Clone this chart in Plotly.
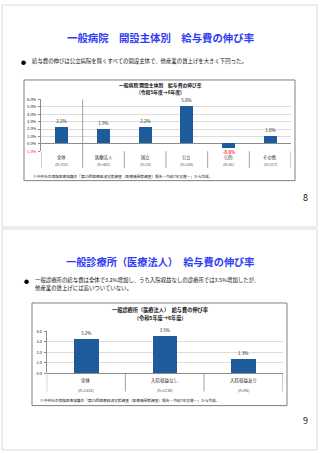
import plotly.graph_objects as go

W, H = 320, 453

# ---------------- data ----------------
cats1 = ["全体", "医療法人", "国立", "公立", "公的", "その他"]
n1 = ["(n=732)", "(n=402)", "(n=24)", "(n=130)", "(n=51)", "(n=117)"]
vals1 = [2.2, 1.9, 2.2, 5.0, -0.6, 1.0]
ytick1 = [-1, 0, 1, 2, 3, 4, 5, 6]

cats2 = ["全体", "入院収益なし", "入院収益あり"]
n2 = ["(n=1333)", "(n=1238)", "(n=95)"]
vals2 = [3.2, 3.5, 1.3]
ytick2 = [0, 1, 2, 3, 4]

FONT = "Noto Sans CJK JP"
BLUE_BAR = "#1d5b9b"
TITLE_BLUE = "#2f3cf5"
TXT = "#222222"
RED = "#ff2020"


def X(px):
    return px / W


def Y(py):
    return 1 - py / H


fig = go.Figure()

fig.add_trace(go.Bar(
    x=cats1, y=vals1, xaxis="x", yaxis="y", width=0.31,
    marker=dict(color=BLUE_BAR, line=dict(width=0)),
    text=[f"{v:.1f}%" if v >= 0 else "" for v in vals1], textposition="outside", cliponaxis=False,
    textfont=dict(size=4.5, family=FONT, color=TXT),
    hoverinfo="skip", showlegend=False,
))
fig.add_trace(go.Bar(
    x=cats2, y=vals2, xaxis="x2", yaxis="y2", width=0.31,
    marker=dict(color=BLUE_BAR, line=dict(width=0)),
    text=[f"{v:.1f}%" for v in vals2], textposition="outside", cliponaxis=False,
    textfont=dict(size=4.5, family=FONT, color=TXT),
    hoverinfo="skip", showlegend=False,
))

tt1 = [(f"<span style='color:{RED}'>{v:.1f}%</span>" if v < 0 else f"{v:.1f}%") for v in ytick1]
tt2 = [f"{v:.1f}" for v in ytick2]

common_x = dict(type="category", showticklabels=False, showgrid=False, zeroline=False,
                showline=False, ticks="", fixedrange=True)
common_y = dict(showgrid=True, gridcolor="#dcdcdc", gridwidth=0.6, showline=True,
                linecolor="#8c8c8c", linewidth=0.8, ticks="outside", ticklen=2,
                tickcolor="#8c8c8c", tickwidth=0.6, zeroline=True, zerolinecolor="#8c8c8c",
                zerolinewidth=0.9, tickfont=dict(size=4, family=FONT, color=TXT),
                ticklabelstandoff=1, fixedrange=True)

fig.update_layout(
    width=W, height=H, margin=dict(l=0, r=0, t=0, b=0),
    paper_bgcolor="white", plot_bgcolor="rgba(0,0,0,0)",
    font=dict(family=FONT, color=TXT),
    bargap=0,
    xaxis=dict(domain=[X(41), X(291)], range=[-0.5, len(cats1) - 0.5], anchor="y", **common_x),
    yaxis=dict(domain=[Y(149.2), Y(96.7)], range=[-1, 6], tickvals=ytick1, ticktext=tt1,
               anchor="x", **common_y),
    xaxis2=dict(domain=[X(46.7), X(282.7)], range=[-0.5, len(cats2) - 0.5], anchor="y2", **common_x),
    yaxis2=dict(domain=[Y(374.3), Y(331.7)], range=[0, 4], tickvals=ytick2, ticktext=tt2,
                anchor="x2", **common_y),
)

shapes = []
# slide outlines
shapes.append(dict(type="rect", xref="paper", yref="paper", x0=X(2), x1=X(317), y0=Y(226), y1=Y(1),
                   line=dict(color="#dadada", width=1), layer="below"))
shapes.append(dict(type="rect", xref="paper", yref="paper", x0=X(2), x1=X(317), y0=Y(452), y1=Y(228),
                   line=dict(color="#dadada", width=1), layer="below"))
# chart frames
shapes.append(dict(type="rect", xref="paper", yref="paper", x0=X(24), x1=X(295), y0=Y(179), y1=Y(77),
                   line=dict(color="#808080", width=1)))
shapes.append(dict(type="rect", xref="paper", yref="paper", x0=X(32), x1=X(287), y0=Y(407), y1=Y(303),
                   line=dict(color="#808080", width=1)))
# category separators chart 1
for i in range(len(cats1) + 1):
    xb = i - 0.5
    top = Y(96.7) if i == 1 else Y(149.2)
    shapes.append(dict(type="line", xref="x", yref="paper", x0=xb, x1=xb, y0=Y(166), y1=top,
                       line=dict(color="#8c8c8c", width=0.8)))
# category separators chart 2
for i in range(len(cats2) + 1):
    xb = i - 0.5
    shapes.append(dict(type="line", xref="x2", yref="paper", x0=xb, x1=xb, y0=Y(392.7), y1=Y(374.3),
                       line=dict(color="#8c8c8c", width=0.8)))
fig.update_layout(shapes=shapes)

ann = []


def txt(x, y, s, size, color=TXT, xanchor="center", bold=False, xref="paper"):
    if bold:
        s = f"<b>{s}</b>"
    ann.append(dict(x=x, y=y, xref=xref, yref="paper", text=s, showarrow=False,
                    xanchor=xanchor, yanchor="middle",
                    font=dict(size=size, family=FONT, color=color)))


# negative data labels (placed just under the bar end)
for c, v in zip(cats1, vals1):
    if v < 0:
        ann.append(dict(x=c, y=v, xref="x", yref="y", text=f"<b>{v:.1f}%</b>", showarrow=False,
                        xanchor="center", yanchor="top", yshift=0.5, borderpad=0,
                        font=dict(size=4.3, family=FONT, color=RED)))

# slide 1
txt(X(160), Y(34), "一般病院　開設主体別　給与費の伸び率", 10.4, TITLE_BLUE, bold=True)
txt(X(23), Y(58), "●", 5, "#000000")
txt(X(30), Y(58), "給与費の伸びは公立病院を除くすべての開設主体で、他産業の賃上げを大きく下回った。",
    5.4, "#111111", xanchor="left")
txt(X(160), Y(82), "一般病院 開設主体別　給与費の伸び率", 4.8, "#111111", bold=True)
txt(X(160), Y(89), "(令和5年度→6年度)", 4.8, "#111111", bold=True)
for c, n in zip(cats1, n1):
    txt(c, Y(155.5), c, 4.3, TXT, xref="x")
    txt(c, Y(162.7), n, 3.8, "#444444", xref="x")
txt(X(31), Y(174.7),
    "※中央社会保険医療協議会「第25回医療経済実態調査（医療機関等調査）報告－令和7年実施－」から作成。",
    3.7, TXT, xanchor="left")
txt(X(305), Y(196), "8", 9, "#111111")

# slide 2
txt(X(160), Y(260.7), "一般診療所（医療法人）　給与費の伸び率", 10.2, TITLE_BLUE, bold=True)
txt(X(26), Y(280), "●", 5, "#000000")
txt(X(33), Y(280), "一般診療所の給与費は全体で3.2%増加し、うち入院収益なしの診療所では3.5%増加したが、",
    5.4, "#111111", xanchor="left")
txt(X(33), Y(287.7), "他産業の賃上げには追いついていない。", 5.4, "#111111", xanchor="left")
txt(X(160), Y(310), "一般診療所（医療法人）　給与費の伸び率", 5.2, "#111111", bold=True)
txt(X(160), Y(318), "(令和5年度→6年度)", 5.2, "#111111", bold=True)
for c, n in zip(cats2, n2):
    txt(c, Y(381.7), c, 4.5, TXT, xref="x2")
    txt(c, Y(390.7), n, 3.9, "#444444", xref="x2")
txt(X(38), Y(401.7),
    "※中央社会保険医療協議会「第25回医療経済実態調査（医療機関等調査）報告－令和7年実施－」から作成。",
    3.7, TXT, xanchor="left")
txt(X(305), Y(421.7), "9", 9, "#111111")

fig.update_layout(annotations=ann)

fig.write_html("out.html")
